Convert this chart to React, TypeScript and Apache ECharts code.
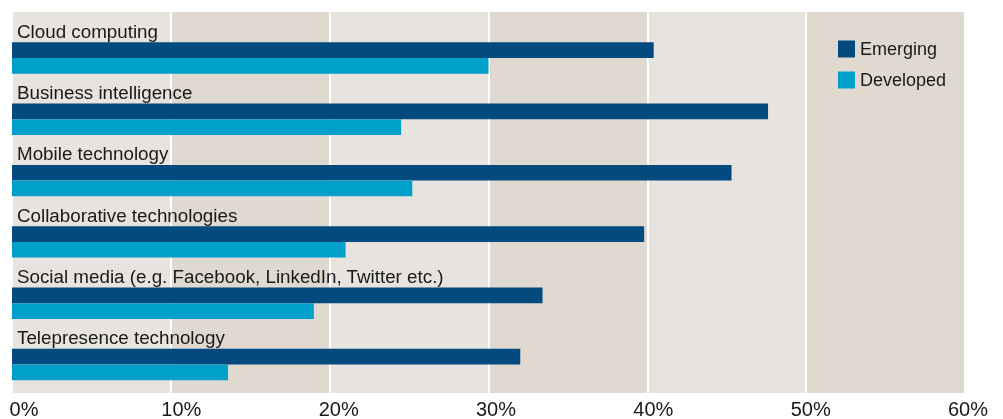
import React, { useEffect, useRef } from 'react';
import * as echarts from 'echarts';

const categories = [
  'Cloud computing',
  'Business intelligence',
  'Mobile technology',
  'Collaborative technologies',
  'Social media (e.g. Facebook, LinkedIn, Twitter etc.)',
  'Telepresence technology',
];
const emerging = [40.4, 47.6, 45.3, 39.8, 33.4, 32.0];
const developed = [30.0, 24.5, 25.2, 21.0, 19.0, 13.6];
const seriesNames = ['Emerging', 'Developed'];
const xMin = 0;
const xMax = 60;
const xStep = 10;

const FONT = '"Liberation Sans", Arial, Helvetica, sans-serif';
const TEXT = '#1a1a1a';

export default function App() {
  const ref = useRef<HTMLDivElement>(null);
  useEffect(() => {
    if (!ref.current) return;
    const chart = echarts.init(ref.current, null, { renderer: 'svg' });
    chart.setOption({
      animation: false,
      textStyle: { fontFamily: FONT },
      legend: {
        data: seriesNames,
        orient: 'vertical',
        left: 833,
        top: 35,
        icon: 'rect',
        itemWidth: 17,
        itemHeight: 17,
        itemGap: 13,
        textStyle: { fontSize: 18, color: TEXT, fontFamily: FONT, lineHeight: 17 },
      },
      grid: [
        { left: 12, top: 12, width: 953, height: 381 },
        { left: 12, top: 13.35, width: 953, height: 367.8 },
        { left: 24, top: 393, width: 944, height: 1 },
      ],
      xAxis: [
        {
          gridIndex: 0, type: 'value', min: xMin, max: xMax, interval: xStep,
          axisLabel: { show: false }, axisLine: { show: false }, axisTick: { show: false },
          splitLine: { show: true, lineStyle: { color: '#ffffff', width: 2 } },
          splitArea: { show: true, areaStyle: { color: ['#e7e3de', '#e0d9d0'] } },
        },
        { gridIndex: 1, type: 'value', min: xMin, max: xMax, show: false },
        {
          gridIndex: 2, type: 'value', min: xMin, max: xMax, interval: xStep,
          axisLine: { show: false }, axisTick: { show: false }, splitLine: { show: false },
          axisLabel: { formatter: '{value}%', fontSize: 20, lineHeight: 20, color: TEXT, fontFamily: FONT, margin: 5 },
        },
      ],
      yAxis: [
        { gridIndex: 0, type: 'category', data: categories, show: false },
        { gridIndex: 1, type: 'category', data: categories, inverse: true, show: false },
        { gridIndex: 2, type: 'category', data: [''], show: false },
      ],
      series: [
        {
          type: 'bar', name: 'label', xAxisIndex: 1, yAxisIndex: 1,
          data: categories.map(() => 0), barWidth: 28, barGap: '0%', silent: true,
          itemStyle: { color: 'rgba(0,0,0,0)' },
          label: {
            show: true, formatter: (p: any) => p.name, position: [5, 17],
            align: 'left', verticalAlign: 'middle', fontSize: 18.8, color: TEXT, fontFamily: FONT,
          },
        },
        {
          type: 'bar', name: seriesNames[0], xAxisIndex: 1, yAxisIndex: 1,
          data: emerging, barWidth: 15.7, barGap: '0%', itemStyle: { color: '#034a7e' },
        },
        {
          type: 'bar', name: seriesNames[1], xAxisIndex: 1, yAxisIndex: 1,
          data: developed, barWidth: 15.7, barGap: '0%', itemStyle: { color: '#00a0ca' },
        },
      ],
    });
    return () => chart.dispose();
  }, []);
  return <div ref={ref} style={{ position: 'fixed', left: 0, top: 0, width: 1003, height: 419 }} />;
}
